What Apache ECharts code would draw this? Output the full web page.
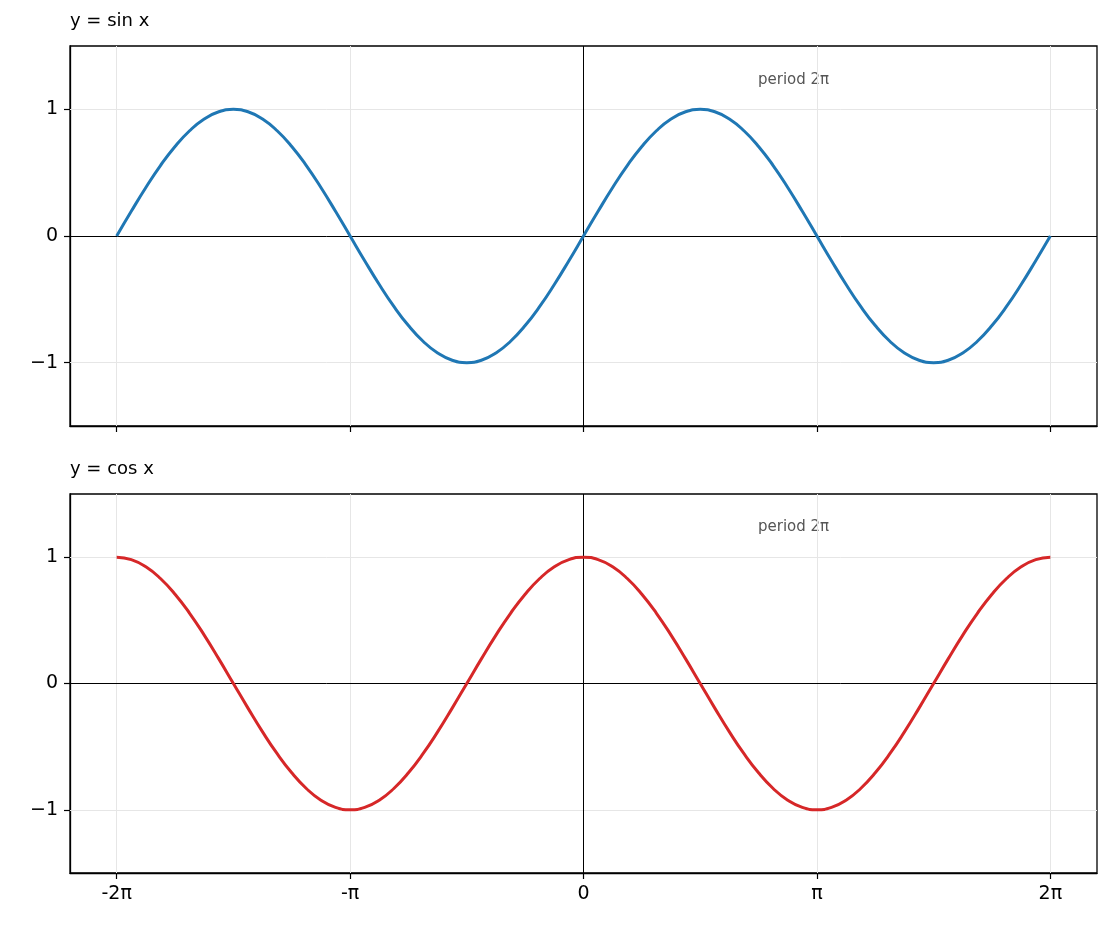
<!DOCTYPE html>
<html><head><meta charset="utf-8">
<script src="https://cdn.jsdelivr.net/npm/echarts@6/dist/echarts.min.js"></script>
<style>body{margin:0}#c{width:1111px;height:931px}</style></head>
<body><div id="c"></div>
<script>
// x positions in units of pi (step 1/16)
const xs = [-2,-1.9375,-1.875,-1.8125,-1.75,-1.6875,-1.625,-1.5625,-1.5,-1.4375,-1.375,-1.3125,-1.25,-1.1875,-1.125,-1.0625,-1,-0.9375,-0.875,-0.8125,-0.75,-0.6875,-0.625,-0.5625,-0.5,-0.4375,-0.375,-0.3125,-0.25,-0.1875,-0.125,-0.0625,0,0.0625,0.125,0.1875,0.25,0.3125,0.375,0.4375,0.5,0.5625,0.625,0.6875,0.75,0.8125,0.875,0.9375,1,1.0625,1.125,1.1875,1.25,1.3125,1.375,1.4375,1.5,1.5625,1.625,1.6875,1.75,1.8125,1.875,1.9375,2];
const sinVals = [0,0.195,0.383,0.556,0.707,0.831,0.924,0.981,1,0.981,0.924,0.831,0.707,0.556,0.383,0.195,0,-0.195,-0.383,-0.556,-0.707,-0.831,-0.924,-0.981,-1,-0.981,-0.924,-0.831,-0.707,-0.556,-0.383,-0.195,0,0.195,0.383,0.556,0.707,0.831,0.924,0.981,1,0.981,0.924,0.831,0.707,0.556,0.383,0.195,0,-0.195,-0.383,-0.556,-0.707,-0.831,-0.924,-0.981,-1,-0.981,-0.924,-0.831,-0.707,-0.556,-0.383,-0.195,0];
const cosVals = [1,0.981,0.924,0.831,0.707,0.556,0.383,0.195,0,-0.195,-0.383,-0.556,-0.707,-0.831,-0.924,-0.981,-1,-0.981,-0.924,-0.831,-0.707,-0.556,-0.383,-0.195,0,0.195,0.383,0.556,0.707,0.831,0.924,0.981,1,0.981,0.924,0.831,0.707,0.556,0.383,0.195,0,-0.195,-0.383,-0.556,-0.707,-0.831,-0.924,-0.981,-1,-0.981,-0.924,-0.831,-0.707,-0.556,-0.383,-0.195,0,0.195,0.383,0.556,0.707,0.831,0.924,0.981,1];
const xTicks = [-2,-1,0,1,2];
const xTickLabels = ['-2π','-π','0','π','2π'];
const yTicks = [-1,0,1];
const titles = ['y = sin x','y = cos x'];
const note = 'period 2π';

const F = 'DejaVu Sans';
const grids = [{left:70,right:14,top:46,height:380},{left:70,right:14,top:494,height:379}];
function xAxis(i){return {type:'value',gridIndex:i,min:-2.2,max:2.2,
  axisLine:{show:true,onZero:false,lineStyle:{color:'#000',width:1.3}},splitLine:{show:false},
  axisTick:{show:true,inside:false,customValues:xTicks,length:6,lineStyle:{color:'#000',width:1.2}},
  axisLabel:{show:i===1,customValues:xTicks,fontFamily:F,fontSize:19,color:'#000',margin:12,
    formatter:v=>xTickLabels[xTicks.indexOf(Math.round(v))]}};}
function yAxis(i){return {type:'value',gridIndex:i,min:-1.5,max:1.5,
  axisLine:{show:true,onZero:false,lineStyle:{color:'#000',width:1.3}},splitLine:{show:false},
  axisTick:{show:true,inside:false,customValues:yTicks,length:6,lineStyle:{color:'#000',width:1.2}},
  axisLabel:{customValues:yTicks,fontFamily:F,fontSize:19,color:'#000',margin:12,
    formatter:v=>v<0?'−'+Math.abs(v):String(v)}};}
function marks(){return {silent:true,symbol:'none',label:{show:false},
  data:[
    ...[-2,-1,1,2].map(v=>({xAxis:v,lineStyle:{color:'#e6e6e6',width:1,type:'solid'}})),
    ...[-1,1].map(v=>({yAxis:v,lineStyle:{color:'#e6e6e6',width:1,type:'solid'}})),
    {xAxis:0,lineStyle:{color:'#000',width:1,type:'solid'}},
    {yAxis:0,lineStyle:{color:'#000',width:1,type:'solid'}}]};}
function ser(i,vals,color){return {type:'line',xAxisIndex:i,yAxisIndex:i,smooth:true,showSymbol:false,
  data:xs.map((x,k)=>[x,vals[k]]),lineStyle:{color,width:3},itemStyle:{color},z:5,markLine:marks()};}
const chart = echarts.init(document.getElementById('c'));
chart.setOption({animation:false,
  grid:grids.map(g=>Object.assign({show:true,borderColor:'#000',borderWidth:1.3,backgroundColor:'transparent'},g)),
  xAxis:[xAxis(0),xAxis(1)], yAxis:[yAxis(0),yAxis(1)],
  series:[ser(0,sinVals,'#1f77b4'),ser(1,cosVals,'#d62728')],
  graphic:[
    {type:'text',left:70,top:12,style:{text:titles[0],fontFamily:F,fontSize:18,fill:'#000'}},
    {type:'text',left:70,top:460,style:{text:titles[1],fontFamily:F,fontSize:18,fill:'#000'}},
    {type:'text',left:758,top:73,style:{text:note,fontFamily:F,fontSize:15,fill:'#555',width:140,overflow:'none'}},
    {type:'text',left:758,top:520,style:{text:note,fontFamily:F,fontSize:15,fill:'#555',width:140,overflow:'none'}}
  ]});
</script></body></html>
